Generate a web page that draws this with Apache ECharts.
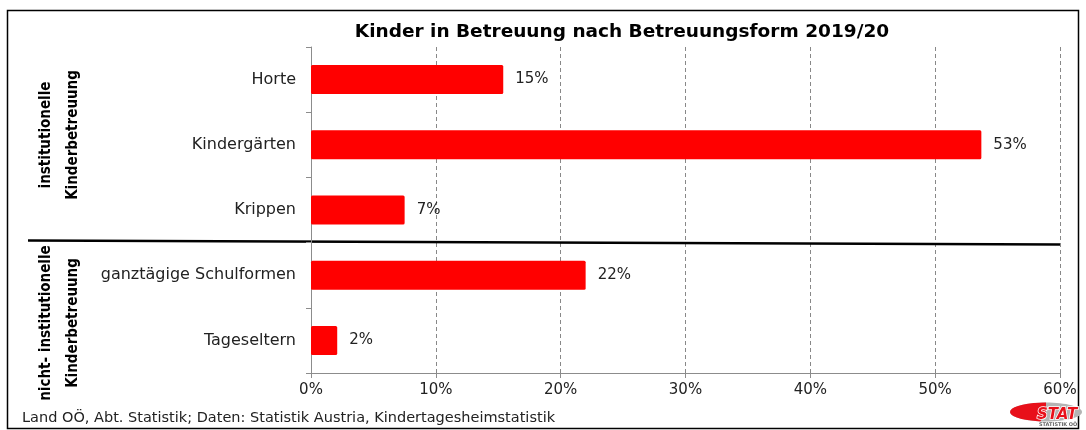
<!DOCTYPE html>
<html><head><meta charset="utf-8">
<script src="https://cdn.jsdelivr.net/npm/echarts@6/dist/echarts.min.js"></script>
<style>html,body{margin:0;padding:0;background:#fff}#c{width:1086px;height:430px}</style>
</head><body><div id="c"></div>
<script>
var categories = ['Horte', 'Kindergärten', 'Krippen', 'ganztägige Schulformen', 'Tageseltern'];
var values = [15.4, 53.7, 7.5, 22.0, 2.1];
var xTicks = [0, 10, 20, 30, 40, 50, 60];
var groupLabels = [['institutionelle', 'Kinderbetreuung'], ['nicht- institutionelle', 'Kinderbetreuung']];
var titleText = 'Kinder in Betreuung nach Betreuungsform 2019/20';
var sourceText = 'Land OÖ, Abt. Statistik; Daten: Statistik Austria, Kindertagesheimstatistik';

var chart = echarts.init(document.getElementById('c'), null, {renderer: 'canvas'});
var F = '"DejaVu Sans", sans-serif';
var option = {
  animation: false,
  title: {text: titleText, left: 617, top: 18, textAlign: 'center',
    textStyle: {fontFamily: F, fontWeight: 'bold', fontSize: 18.5, color: '#000'}},
  grid: {left: 311, right: 26, top: 47, bottom: 57, containLabel: false},
  xAxis: {type: 'value', min: xTicks[0], max: xTicks[xTicks.length - 1], interval: 10,
    axisLine: {show: true, lineStyle: {color: '#8c8c8c'}},
    axisTick: {show: true, length: 5, lineStyle: {color: '#8c8c8c'}},
    axisLabel: {formatter: '{value}%', fontFamily: F, fontSize: 15, color: '#222', margin: 10},
    splitLine: {show: true, lineStyle: {type: [4, 3], color: '#888', width: 1}}},
  yAxis: {type: 'category', inverse: true, data: categories,
    axisLine: {show: true, lineStyle: {color: '#8c8c8c'}},
    axisTick: {show: true, inside: false, length: 5, lineStyle: {color: '#8c8c8c'}},
    axisLabel: {fontFamily: F, fontSize: 16, color: '#222', margin: 15}},
  series: [{type: 'bar', data: values, barWidth: 29,
    itemStyle: {color: '#ff0000', borderRadius: 1.5},
    label: {show: true, position: 'right', distance: 12, fontFamily: F, fontSize: 15, color: '#222',
      formatter: function (p) { return Math.floor(p.value) + '%'; }}}]
};
chart.setOption(option);

var yTop = chart.convertToPixel({yAxisIndex: 0}, categories[2]);
var yBot = chart.convertToPixel({yAxisIndex: 0}, categories[3]);
var ySep = (yTop + yBot) / 2;
var xEnd = chart.convertToPixel({xAxisIndex: 0}, 60);
var GF = '"DejaVu Sans Condensed", "DejaVu Sans", sans-serif';
function groupText(lines, cy) {
  return lines.map(function (t, i) {
    return {type: 'text', x: 46 + i * 27, y: cy, rotation: Math.PI / 2,
      style: {text: t, font: 'bold 15px ' + GF, fill: '#000', align: 'center', verticalAlign: 'middle'}};
  });
}
chart.setOption({graphic: [
  {type: 'rect', shape: {x: 7.5, y: 10.5, width: 1071, height: 418}, style: {fill: 'none', stroke: '#000', lineWidth: 1.5}, silent: true},
  {type: 'line', shape: {x1: 28, y1: ySep - 2, x2: xEnd, y2: ySep + 2}, style: {stroke: '#000', lineWidth: 2.5}}
].concat(groupText(groupLabels[0], 135)).concat(groupText(groupLabels[1], 323)).concat([
  {type: 'text', x: 22, y: 418, style: {text: sourceText, font: '14.5px ' + F, fill: '#222', verticalAlign: 'middle'}},
  {type: 'group', x: 1046, y: 412, children: [
    {type: 'ellipse', shape: {cx: 0, cy: 0, rx: 36, ry: 9.5}, style: {fill: '#b4b4b4'}},
    {type: 'sector', shape: {cx: 0, cy: 0, r: 9.5, r0: 0, startAngle: Math.PI * 0.55, endAngle: Math.PI * 1.5}, scaleX: 3.79, style: {fill: '#e8101a'}},
    {type: 'text', x: -9, y: 3, style: {text: 'STAT', font: 'italic bold 15px "DejaVu Sans", sans-serif', fill: '#e8101a', verticalAlign: 'middle', stroke: '#fff', lineWidth: 1.5}},
    {type: 'text', x: -7, y: 13, style: {text: 'STATISTIK OÖ', font: 'bold 5px "DejaVu Sans", sans-serif', fill: '#666', verticalAlign: 'middle'}}
  ]}
])});
</script></body></html>
